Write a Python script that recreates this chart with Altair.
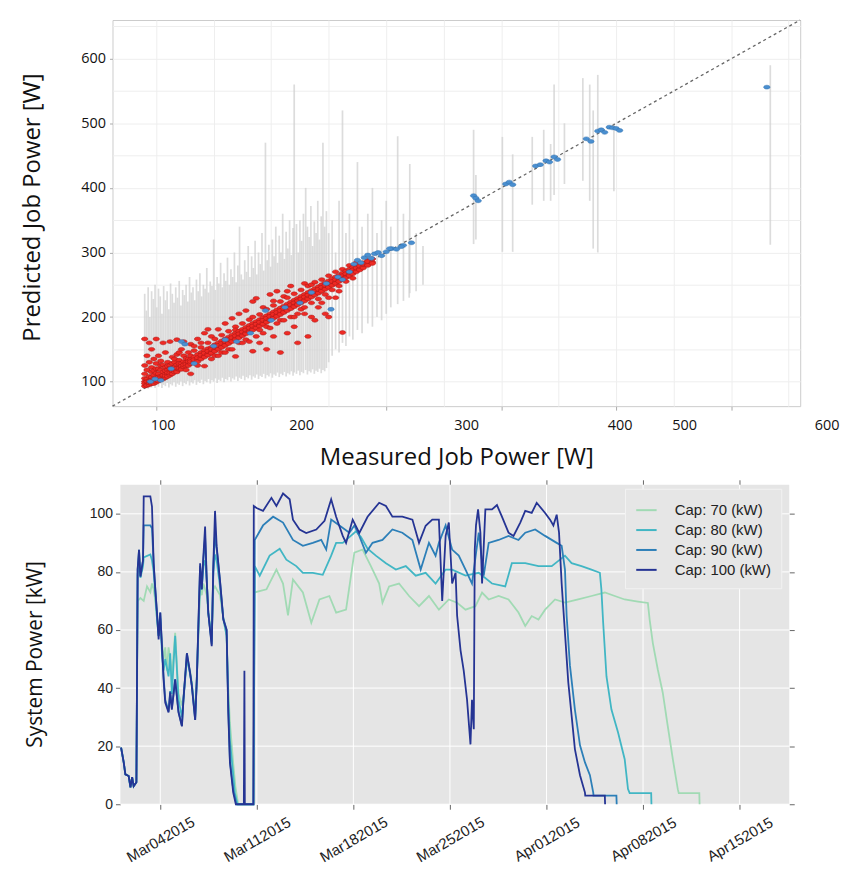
import json
import altair as alt
import pandas as pd

# ================= top panel: measured vs predicted job power =================
red_x_groups = [90, 92, 94, 96, 98, 100, 102, 104, 106, 108, 110, 112, 114, 116, 118, 120,
                122, 124, 126, 128, 130, 133, 136, 139, 142, 145, 148, 151, 154, 157, 160,
                163, 166, 169, 172, 175, 178, 181, 184, 187, 190, 193, 196, 199, 202, 205,
                208, 211, 214, 217, 220, 223, 226, 229, 232, 235, 238, 241, 244, 247, 250,
                253, 256, 259, 262, 265, 268, 271, 274, 277, 280, 284, 288]
red_y_groups = [
    [93, 100, 112, 125, 166, 97, 105], [96, 104, 118, 140, 94, 100],
    [95, 108, 130, 160, 98, 101], [99, 103, 115, 122, 150, 97, 107],
    [100, 110, 135, 97, 104, 117], [99, 106, 120, 128, 166, 102, 113],
    [104, 112, 140, 101, 107, 120], [103, 108, 118, 132, 106, 125],
    [107, 115, 126, 160, 104, 110], [106, 112, 122, 145, 109, 117],
    [111, 118, 130, 108, 114, 124], [110, 116, 125, 162, 113, 120],
    [113, 120, 138, 112, 117, 128], [115, 122, 130, 118, 135],
    [117, 126, 142, 165, 115, 121], [119, 124, 133, 121, 128, 145],
    [121, 128, 150, 119, 124], [123, 131, 140, 162, 126], [124, 130, 118, 127, 136],
    [127, 135, 145, 125, 131], [128, 134, 112, 158, 131, 140], [131, 138, 148, 129, 134, 155],
    [134, 142, 125, 166, 137, 131], [137, 145, 153, 135, 141, 160],
    [140, 148, 124, 175, 138, 144], [143, 151, 160, 181, 141, 147],
    [146, 153, 135, 144, 150, 170], [149, 157, 166, 147, 153, 140],
    [152, 160, 140, 181, 150, 156], [155, 163, 172, 153, 159, 145],
    [158, 166, 145, 190, 156, 162], [161, 169, 178, 159, 165, 150],
    [164, 172, 150, 198, 162, 168], [167, 175, 139, 185, 165, 171, 180],
    [170, 178, 160, 205, 168, 174], [173, 181, 190, 171, 177, 160],
    [176, 184, 165, 210, 174, 180], [179, 187, 196, 162, 177, 183],
    [182, 190, 147, 224, 180, 186, 200], [185, 193, 170, 229, 183, 189],
    [188, 196, 204, 160, 186, 192, 180], [191, 199, 175, 215, 189, 195],
    [194, 202, 212, 150, 192, 198, 185], [197, 205, 183, 235, 195, 201],
    [200, 208, 218, 170, 198, 204, 225], [203, 211, 190, 240, 201, 207],
    [206, 214, 224, 145, 204, 210, 195], [209, 217, 195, 232, 207, 213],
    [212, 220, 230, 175, 210, 216, 240], [215, 223, 200, 248, 213, 219],
    [218, 226, 236, 185, 216, 222, 200], [221, 229, 205, 160, 219, 225],
    [224, 232, 242, 212, 222, 228], [227, 235, 215, 252, 225, 231, 205],
    [230, 238, 248, 170, 228, 234], [233, 241, 222, 200, 231, 237, 250],
    [236, 244, 254, 195, 234, 240], [239, 247, 228, 237, 243, 215],
    [242, 250, 258, 222, 240, 246], [245, 253, 235, 205, 243, 249],
    [248, 256, 264, 200, 246, 252, 230], [251, 259, 242, 249, 255],
    [254, 262, 270, 230, 252, 258], [257, 265, 248, 255, 261, 240],
    [260, 268, 274, 176, 258, 264], [263, 271, 255, 261, 267],
    [266, 274, 280, 264, 270], [269, 277, 260, 267, 273],
    [272, 280, 284, 270, 276], [275, 281, 273, 279], [278, 284, 276, 282],
    [282, 288, 280, 286], [285, 290, 283]]

blue_x = [95, 99, 104, 113, 122, 125, 133, 150, 160, 170, 182, 195, 200, 212, 225, 235, 248,
          252, 258, 262, 268, 272, 275, 278, 281, 284, 287, 290, 293, 296, 300, 305, 309, 315,
          322, 303, 313, 376, 378, 380, 404, 407, 410, 430, 434, 439, 442, 446, 449, 474, 478,
          484, 487, 490, 494, 497, 500, 503, 631]
blue_y = [100, 104, 102, 120, 162, 158, 128, 155, 165, 162, 175, 210, 195, 215, 222, 238, 252,
          212, 262, 258, 270, 282, 288, 284, 292, 296, 291, 298, 300, 295, 301, 306, 305, 311,
          315, 306, 309, 388, 384, 380, 406, 409, 405, 434, 436, 442, 440, 448, 444, 476, 472,
          488, 490, 486, 494, 493, 492, 489, 556]

bar_x = [90, 91.5, 93, 94.5, 96, 97.5, 99, 100.5, 102, 103.5, 105, 106.5, 108, 109.5, 111,
         112.5, 114, 115.5, 117, 118.5, 120, 121.5, 123, 124.5, 126, 127.5, 129, 130.5, 132,
         133.5, 135, 136.5, 138, 139.5, 141, 142.5, 144, 145.5, 147, 148.5, 150, 151.5, 153,
         154.5, 156, 157.5, 159, 160.5, 162, 163.5, 165, 166.5, 168, 169.5, 171, 172.5, 174,
         175.5, 177, 178.5, 180, 181.5, 183, 184.5, 186, 187.5, 189, 190.5, 192, 193.5, 195,
         196.5, 198, 199.5, 201, 202.5, 204, 205.5, 207, 208.5, 210, 211.5, 213, 214.5, 216,
         217.5, 219, 220, 222, 223.5, 225, 226.5, 228, 230, 231.5, 233, 234.5, 236, 237.5,
         239, 240.5, 242, 243.5, 245, 246.5, 248, 250, 253, 256, 259, 262, 265, 268, 271, 275,
         279, 284, 288, 292, 296, 300, 304, 310, 315, 320, 320.5, 326, 332,
         376, 378, 401, 410, 427, 437, 443, 446, 455, 471, 477, 480, 484, 498, 634]
bar_lo = [90, 93, 89, 95, 91, 94, 90, 96, 92, 97, 90, 95, 93, 98, 91,
          96, 94, 99, 92, 97, 95, 100, 93, 98, 96, 101, 94, 99, 97,
          102, 95, 100, 98, 103, 96, 101, 99, 104, 97, 102, 100, 105, 98,
          103, 101, 106, 99, 104, 102, 107, 100, 105, 103, 108, 101, 106, 104,
          109, 102, 107, 105, 110, 103, 108, 106, 111, 104, 109, 107, 112, 105,
          110, 108, 113, 106, 111, 109, 114, 107, 112, 110, 115, 108, 113, 111,
          116, 109, 114, 112, 117, 110, 115, 113, 118, 111, 116, 114, 119, 112,
          117, 115, 120, 113, 118, 116, 121, 130, 140, 150, 145, 160, 155, 170, 165, 180,
          175, 190, 185, 200, 195, 205, 215, 220, 225, 230, 237, 240, 250,
          313, 320, 301, 301, 374, 380, 380, 389, 406, 411, 380, 306, 300, 395, 312]
bar_hi = [236, 210, 246, 200, 240, 228, 250, 215, 244, 232, 205, 248, 226, 240, 212,
          252, 236, 222, 246, 230, 256, 218, 242, 234, 250, 224, 262, 238, 246,
          226, 258, 240, 268, 232, 250, 244, 276, 238, 255, 248, 320, 242, 262,
          252, 284, 246, 268, 256, 292, 250, 274, 262, 300, 254, 280, 340, 266,
          258, 288, 270, 310, 262, 294, 276, 318, 266, 300, 282, 330, 272, 470,
          288, 312, 278, 320, 294, 340, 284, 326, 300, 360, 290, 332, 306, 350,
          296, 338, 560, 344, 300, 350, 318, 360, 400, 340, 324, 372, 310, 348,
          330, 380, 320, 356, 470, 340, 364, 330, 350, 300, 380, 520, 330, 360, 320, 440,
          340, 360, 400, 330, 350, 380, 340, 480, 360, 350, 437, 330, 310,
          490, 420, 479, 452, 479, 490, 468, 560, 500, 570, 560, 520, 575, 500, 590]

diag_ends = [62, 660]
x_label_text = ["100", "200", "300", "400", "500", "600"]
x_label_pos = [106, 226.4, 370, 503.4, 559.6, 683.4]
grid_values = [100, 150, 200, 250, 300, 350, 400, 450, 500, 550, 600, 650]

# ================= bottom panel: system power under power caps =================
series_names = ["Cap: 70 (kW)", "Cap: 80 (kW)", "Cap: 90 (kW)", "Cap: 100 (kW)"]
series_colors = ["#a1dab4", "#41b6c4", "#2c7fb8", "#253494"]

cap70_day = [0.16, 0.35, 0.47, 0.71, 0.84, 0.96, 1.07, 1.27, 1.36, 1.56,
             1.80, 2.04, 2.28, 2.40, 2.52, 2.64, 2.76, 2.88, 3.00, 3.12,
             3.24, 3.36, 3.48, 3.60, 3.72, 3.84, 4.08, 4.32, 4.57, 4.68,
             4.93, 5.16, 5.29, 5.53, 5.65, 5.89, 6.01, 6.12, 6.25, 6.37,
             6.48, 6.73, 6.85, 6.97, 7.09, 7.33, 7.57, 7.81, 7.93, 8.05,
             8.29, 8.45, 8.65, 9.76, 9.80, 10.70, 11.42, 11.90, 12.26, 12.62,
             13.34, 13.95, 14.54, 15.26, 15.75, 16.47, 17.07, 17.67, 18.27, 18.87,
             19.11, 19.59, 20.31, 21.04, 21.76, 22.48, 23.20, 23.92, 24.52, 25.13,
             25.85, 26.33, 26.81, 27.53, 28.25, 28.97, 29.46, 29.93, 30.42, 30.90,
             31.62, 32.34, 33.30, 34.26, 35.23, 35.95, 36.67, 37.63, 38.35, 38.48,
             38.71, 39.07, 39.43, 39.79, 40.16, 40.52, 40.59, 42.08, 42.10]
cap70_kw = [19.5, 14.4, 10.3, 9.7, 5.8, 9.3, 6.2, 7.6, 70, 71,
            70, 75, 73, 76, 74, 70, 64, 58, 62, 56,
            50, 54, 46, 54, 50, 44, 59, 38, 34, 37,
            50, 46, 42, 31, 44, 74, 72, 76, 74, 72,
            66, 58, 74, 75, 74, 72, 64, 58, 40, 28,
            14, 6, 0, 0, 72.9, 74, 80.8, 76, 65, 77.4,
            72.9, 62.5, 70.5, 71.7, 66, 67, 86.6, 87.7, 82, 76,
            69.4, 75, 76, 71.7, 68.2, 71.7, 67, 70.5, 69.4, 67,
            68.2, 72.9, 70.5, 71.7, 70.5, 66, 61.4, 64.8, 63.6, 67,
            70.5, 69.4, 70.5, 71.7, 72.9, 71.7, 70.5, 69.8, 69.3, 63.6,
            55.5, 46.4, 38.4, 27, 15.5, 5.2, 3.8, 3.8, 0]

cap80_day = [0.16, 0.35, 0.47, 0.71, 0.84, 0.96, 1.07, 1.27, 1.36, 1.46,
             1.56, 1.75, 1.80, 2.28, 2.40, 2.52, 2.64, 2.76, 2.88, 3.00,
             3.12, 3.24, 3.36, 3.60, 3.72, 3.84, 4.08, 4.32, 4.57, 4.68,
             4.93, 5.16, 5.29, 5.53, 5.65, 5.89, 6.01, 6.12, 6.25, 6.37,
             6.48, 6.73, 6.85, 6.97, 7.09, 7.33, 7.57, 7.81, 7.93, 8.05,
             8.29, 8.40, 8.60, 9.76, 9.85, 10.21, 10.93, 11.66, 12.14, 12.86,
             13.34, 14.06, 14.78, 15.39, 15.75, 16.23, 16.71, 17.19, 17.55, 18.03,
             18.63, 19.36, 20.08, 20.80, 21.52, 22.24, 22.96, 23.69, 24.16, 25.13,
             26.09, 27.05, 28.01, 28.49, 29.46, 30.42, 31.38, 32.34, 32.82, 33.54,
             34.26, 34.87, 34.98, 35.11, 35.35, 35.71, 36.19, 36.67, 36.91, 37.03,
             38.59, 38.61]
cap80_kw = [19.5, 14.4, 10.3, 9.7, 5.8, 9.3, 6.2, 7.6, 79, 84,
            78, 82, 85, 86, 84, 80, 72, 64, 58, 64,
            52, 46, 50, 44, 52, 38, 58, 36, 30, 36,
            50, 45, 41, 30, 43, 78, 74, 82, 84, 77,
            66, 56, 80, 86, 84, 75, 64, 58, 36, 22,
            10, 4, 0, 0, 82, 78.7, 85.6, 88, 84.2, 82,
            79.7, 79.7, 79, 85.6, 90, 90, 92, 94, 92, 88,
            85.6, 83, 80.8, 82, 78.7, 79.7, 76, 80.8, 80.8, 78.7,
            79.7, 76, 75, 83, 83, 82, 82, 85.6, 83, 82,
            80.8, 79.7, 74, 62.5, 44, 32.6, 24.7, 15.5, 5.2, 3.8,
            3.8, 0]

cap90_day = [0.16, 0.35, 0.47, 0.71, 0.84, 0.96, 1.07, 1.27, 1.36, 1.46,
             1.56, 1.75, 1.80, 2.28, 2.40, 2.52, 2.64, 2.76, 2.88, 3.00,
             3.12, 3.24, 3.36, 3.60, 3.72, 3.84, 4.08, 4.32, 4.57, 4.68,
             4.93, 5.16, 5.29, 5.53, 5.65, 5.89, 6.01, 6.12, 6.25, 6.37,
             6.48, 6.73, 6.85, 6.97, 7.09, 7.33, 7.57, 7.81, 7.93, 8.05,
             8.29, 8.52, 9.76, 9.85, 10.45, 11.18, 11.90, 12.62, 13.34, 14.06,
             14.67, 15.03, 15.39, 15.99, 16.71, 17.07, 17.43, 17.91, 18.39, 19.11,
             19.83, 20.55, 21.28, 21.88, 22.48, 22.96, 23.20, 23.69, 24.16, 24.64,
             25.13, 25.60, 26.09, 26.45, 26.81, 27.53, 28.25, 28.97, 29.46, 30.18,
             30.90, 31.74, 32.10, 32.34, 32.46, 32.70, 33.06, 33.43, 33.79, 34.15,
             34.39, 34.41, 36.07, 36.09]
cap90_kw = [19.5, 14.4, 10.3, 9.7, 5.8, 9.3, 6.2, 7.6, 80.8, 87.6,
            78.4, 84, 96, 96, 95, 83, 74, 66, 58, 66,
            55, 44, 36, 32, 39, 33, 43, 32, 27, 36,
            52, 45, 41, 29, 43, 82, 74, 84, 92, 77,
            66, 55, 82, 93, 88, 77, 64, 60, 33, 15,
            5, 0, 0, 91, 96, 99, 97, 91, 89, 90,
            91, 87.7, 98, 96, 93.5, 96, 92.4, 86.6, 90, 91,
            94.6, 93.5, 91, 80.8, 90, 85.6, 90, 96, 87.7, 85.6,
            80.8, 76, 93.5, 78.7, 90, 91, 92.4, 91, 93.5, 94.6,
            92.4, 90, 89, 80.8, 65, 47.8, 32.6, 20.3, 14.4, 10,
            4, 3, 3, 0]

cap100_day = [0.16, 0.35, 0.47, 0.71, 0.84, 0.96, 1.07, 1.27, 1.36, 1.46,
              1.56, 1.75, 1.80, 2.28, 2.40, 2.52, 2.64, 2.76, 2.88, 3.00,
              3.12, 3.24, 3.36, 3.60, 3.72, 3.84, 4.08, 4.32, 4.57, 4.68,
              4.93, 5.16, 5.29, 5.53, 5.65, 5.89, 6.01, 6.12, 6.25, 6.37,
              6.48, 6.73, 6.85, 6.97, 7.09, 7.33, 7.57, 7.81, 7.93, 8.05,
              8.29, 8.48, 9.06, 9.10, 9.13, 9.75, 9.78, 9.98, 10.45, 11.06,
              11.42, 11.90, 12.38, 12.62, 13.10, 13.58, 14.31, 14.91, 15.39, 15.75,
              16.23, 16.47, 16.95, 17.43, 18.03, 18.87, 19.36, 19.83, 20.55, 21.28,
              21.76, 22.24, 22.72, 23.20, 23.44, 23.69, 23.92, 24.16, 24.41, 24.52,
              24.77, 25.00, 25.24, 25.49, 25.60, 25.73, 25.80, 25.89, 26.04, 26.21,
              26.33, 26.57, 27.05, 27.41, 27.77, 28.25, 28.61, 29.10, 29.46, 29.93,
              30.29, 30.90, 31.26, 31.50, 31.74, 31.91, 32.10, 32.34, 32.58, 32.82,
              33.06, 33.43, 33.79, 33.81, 35.23, 35.25]
cap100_kw = [19.5, 14.4, 10.3, 9.7, 5.8, 9.3, 6.2, 7.6, 80.8, 87.6,
             78.4, 84, 106, 106, 102.5, 83, 74, 66, 56.7, 66,
             54.4, 43, 35, 31.6, 38.5, 32.6, 43, 31.6, 26.8, 36,
             52, 45.4, 40.6, 29, 43, 83, 74, 85, 95.6, 77,
             66, 54.4, 83, 101, 88.7, 77, 63.6, 60, 31.6, 14.4,
             4, 0, 0, 46, 0, 0, 102.7, 102, 101, 105.5,
             102.7, 107, 105, 98, 94.6, 93.4, 94.6, 97.6, 105, 99,
             92.4, 90, 98, 93.4, 99, 103.8, 102.7, 99, 99, 98,
             90, 95.9, 98, 98, 70, 92.4, 97, 76, 79.7, 65,
             53, 46, 36, 20.6, 36, 25.8, 87.6, 96, 101.5, 93.5,
             76, 101.5, 101.5, 103, 99, 93.5, 92.4, 97, 101, 100.3,
             103.8, 100.3, 98, 96, 99.7, 93.5, 76, 59, 42, 30.6,
             19, 10, 4, 3, 3, 0]

start_date = "2015-03-01"
tick_dates = ["2015-03-04", "2015-03-11", "2015-03-18", "2015-03-25",
              "2015-04-01", "2015-04-08", "2015-04-15"]
kw_ticks = [0, 20, 40, 60, 80, 100]
panel_days = [0.11, 48.6]      # extent of the shaded panel (days after start_date)
panel_kw = [0, 110]
axis_days = [-0.463, 48.6]     # time-axis range (a little wider on the left)

# ---------------- tables ----------------
red_rows = [{"x": gx, "y": gy} for gx, ys in zip(red_x_groups, red_y_groups) for gy in ys]
red_df = pd.DataFrame(red_rows)
blue_df = pd.DataFrame({"x": blue_x, "y": blue_y})
bars_df = pd.DataFrame({"x": bar_x, "lo": bar_lo, "hi": bar_hi})
diag_df = pd.DataFrame({"v": diag_ends})
xlab_df = pd.DataFrame({"pos": x_label_pos, "text": x_label_text})

base = pd.Timestamp(start_date)


def iso(days):
    return (base + pd.to_timedelta(days, unit="D")).strftime("%Y-%m-%dT%H:%M:%S")


frames = []
for name, days, vals in zip(series_names,
                            [cap70_day, cap80_day, cap90_day, cap100_day],
                            [cap70_kw, cap80_kw, cap90_kw, cap100_kw]):
    frames.append(pd.DataFrame({"series": name, "t": [iso(d) for d in days], "kw": vals}))
power_df = pd.concat(frames, ignore_index=True)

panel_df = pd.DataFrame({"t0": [iso(panel_days[0])], "t1": [iso(panel_days[1])],
                         "k0": [panel_kw[0]], "k1": [panel_kw[1]]})
hgrid_df = pd.DataFrame({"k": kw_ticks, "t0": iso(panel_days[0]), "t1": iso(panel_days[1])})
vgrid_df = pd.DataFrame({"t": [d + "T00:00:00" for d in tick_dates],
                         "k0": panel_kw[0], "k1": panel_kw[1]})

# ---------------- top chart ----------------
TITLE_FONT = "Open Sans"
XS = alt.Scale(domain=[62, 660], nice=False, zero=False)
YS = alt.Scale(domain=[62, 660], nice=False, zero=False)
tick_col = {"condition": {"test": "datum.value % 100 === 0", "value": "#aaaaaa"},
            "value": "rgba(0,0,0,0)"}

x_main_axis = alt.Axis(values=grid_values, labels=False, grid=True,
                       gridColor="#eeeeee", domain=False, tickSize=4, tickColor=tick_col,
                       title="Measured Job Power [W]", titleFont=TITLE_FONT,
                       titleFontSize=24, titleFontWeight="normal", titleColor="#111111",
                       titleY=40)
y_main_axis = alt.Axis(values=grid_values,
                       labelExpr="datum.value % 100 === 0 ? datum.label : ''",
                       grid=True, gridColor="#eeeeee", domain=False, tickSize=3,
                       tickColor=tick_col, labelFont=TITLE_FONT, labelFontSize=14.5,
                       labelColor="#111111", labelPadding=4,
                       title="Predicted Job Power [W]", titleFont=TITLE_FONT,
                       titleFontSize=24, titleFontWeight="normal", titleColor="#111111",
                       titleX=-68, titleY=188)

bars = alt.Chart(bars_df).mark_rule(color="#d0d0d0", strokeWidth=1.7, opacity=0.75).encode(
    x=alt.X("x:Q", scale=XS, axis=x_main_axis),
    y=alt.Y("lo:Q", scale=YS, axis=y_main_axis),
    y2="hi:Q",
)
diag = alt.Chart(diag_df).mark_line(color="#666666", strokeDash=[3, 3], strokeWidth=1.3).encode(
    x=alt.X("v:Q", scale=XS, axis=None),
    y=alt.Y("v:Q", scale=YS, axis=None),
)
ellipse = "M -1 0 A 1 0.6 0 1 0 1 0 A 1 0.6 0 1 0 -1 0 Z"
red = alt.Chart(red_df).mark_point(shape=ellipse, filled=True, size=42, fill="#ee2a24",
                                   stroke="#a31616", strokeWidth=0.5, opacity=1).encode(
    x=alt.X("x:Q", scale=XS, axis=None),
    y=alt.Y("y:Q", scale=YS, axis=None),
)
blue = alt.Chart(blue_df).mark_point(shape=ellipse, filled=True, size=42, fill="#4a8fd0",
                                     stroke="#2f6fae", strokeWidth=0.5, opacity=1).encode(
    x=alt.X("x:Q", scale=XS, axis=None),
    y=alt.Y("y:Q", scale=YS, axis=None),
)
xlabels = alt.Chart(xlab_df).mark_text(font=TITLE_FONT, fontSize=14.5, color="#111111",
                                       baseline="top", align="center").encode(
    x=alt.X("pos:Q", scale=XS, axis=None),
    y=alt.value(401),
    text="text:N",
)

top = alt.layer(bars, diag, red, blue, xlabels).resolve_axis(
    x="independent", y="independent"
).properties(width=691, height=388,
             view=alt.ViewBackground(fill="white", stroke="#cccccc", strokeWidth=1))

# ---------------- bottom chart ----------------
date_vals = [alt.DateTime(year=int(d[:4]), month=int(d[5:7]), date=int(d[8:])) for d in tick_dates]
t_lo = base + pd.to_timedelta(axis_days[0], unit="D")
t_hi = base + pd.to_timedelta(axis_days[1], unit="D")
TS = alt.Scale(domain=[
    alt.DateTime(year=t_lo.year, month=t_lo.month, date=t_lo.day, hours=t_lo.hour,
                 minutes=t_lo.minute),
    alt.DateTime(year=t_hi.year, month=t_hi.month, date=t_hi.day, hours=t_hi.hour,
                 minutes=t_hi.minute)])
KS = alt.Scale(domain=panel_kw, nice=False, zero=False)
AX_FONT = "Liberation Sans"

x_axis_b = alt.Axis(values=date_vals, format="%b%d%Y", labelAngle=330, labelAlign="center",
                    labelBaseline="middle", labelPadding=30, labelFont=AX_FONT,
                    labelFontSize=15, labelColor="#222222", grid=False,
                    domain=False, tickSize=5, tickColor="#666666", title=None)
y_axis_b = alt.Axis(values=kw_ticks, labelFont=AX_FONT, labelFontSize=14,
                    labelColor="#222222", labelPadding=3, grid=False, offset=-8,
                    domain=False, tickSize=5, tickColor="#666666",
                    title="System Power [kW]", titleFont=TITLE_FONT, titleFontSize=21,
                    titleFontWeight="normal", titleColor="#111111",
                    titleX=-75, titleY=170)
legend_b = alt.Legend(orient="none", legendX=515, legendY=471, title=None,
                      fillColor="#e6e6e6", strokeColor="#f2f2f2", padding=10,
                      symbolType="stroke", symbolStrokeWidth=2, symbolSize=420,
                      labelFont=AX_FONT, labelFontSize=15, labelColor="#222222",
                      labelOffset=17, rowPadding=0)

panel = alt.Chart(panel_df).mark_rect(color="#e5e5e5").encode(
    x=alt.X("t0:T", scale=TS, axis=x_axis_b),
    x2="t1:T",
    y=alt.Y("k0:Q", scale=KS, axis=y_axis_b),
    y2="k1:Q",
)
hgrid = alt.Chart(hgrid_df).mark_rule(color="#ffffff", strokeWidth=1).encode(
    x=alt.X("t0:T", scale=TS, axis=None), x2="t1:T",
    y=alt.Y("k:Q", scale=KS, axis=None),
)
vgrid = alt.Chart(vgrid_df).mark_rule(color="#ffffff", strokeWidth=1).encode(
    x=alt.X("t:T", scale=TS, axis=None),
    y=alt.Y("k0:Q", scale=KS, axis=None), y2="k1:Q",
)
lines = alt.Chart(power_df).mark_line(strokeWidth=1.8).encode(
    x=alt.X("t:T", scale=TS, axis=None),
    y=alt.Y("kw:Q", scale=KS, axis=None),
    color=alt.Color("series:N", scale=alt.Scale(domain=series_names, range=series_colors),
                    sort=series_names, legend=legend_b),
)
mirror = alt.Chart(power_df).mark_line(opacity=0).encode(
    x=alt.X("t:T", scale=TS, axis=alt.Axis(orient="top", values=date_vals, labels=False,
                                            grid=False, domain=False, tickSize=5,
                                            tickColor="#666666", title=None)),
    y=alt.Y("kw:Q", scale=KS, axis=alt.Axis(orient="right", values=kw_ticks, labels=False,
                                             grid=False, domain=False, tickSize=5,
                                             tickColor="#666666", title=None)),
    detail="series:N",
)

bottom = alt.layer(panel, hgrid, vgrid, lines, mirror).resolve_axis(
    x="independent", y="independent"
).properties(width=680, height=321,
             view=alt.ViewBackground(fill="transparent", stroke="transparent"))

chart = alt.concat(top, bottom, columns=1, align="none", spacing=8).properties(
    padding={"left": 12, "top": 6, "right": 0, "bottom": 0}
).configure(background="white")

chart.save("out.html", embed_options={"renderer": "svg", "actions": False})
